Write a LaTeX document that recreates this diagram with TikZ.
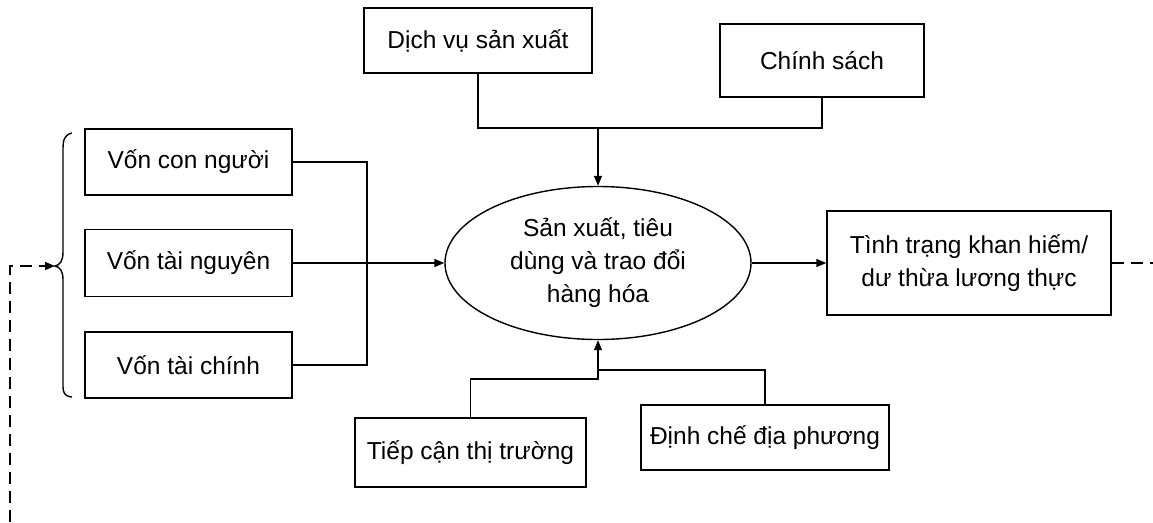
\documentclass[tikz,border=0pt]{standalone}
\usepackage{fontspec}
\setmainfont{Liberation Sans}
\usetikzlibrary{shapes.geometric,arrows.meta}
\begin{document}
\begin{tikzpicture}[x=1pt,y=-1pt,
  line width=1.4pt,
  every node/.style={font=\fontsize{24.5}{33}\selectfont, align=center, inner sep=0pt},
  box/.style={draw, rectangle},
  arr/.style={-{Triangle[length=10pt,width=8pt]}},
  dsh/.style={dash pattern=on 12pt off 7pt}]
\useasboundingbox (0,0) rectangle (1153,522);
% boxes
\node[box, minimum width=228pt, minimum height=65pt] (dv) at (478,40.5) {Dịch vụ sản xuất};
\node[box, minimum width=204pt, minimum height=73pt] (cs) at (822,60.5) {Chính sách};
\node[box, minimum width=207pt, minimum height=66pt] (v1) at (188.5,162) {Vốn con người};
\node[box, minimum width=207pt, minimum height=67pt] (v2) at (188.5,263) {Vốn tài nguyên};
\node[box, minimum width=207pt, minimum height=66pt] (v3) at (188.5,365) {Vốn tài chính};
\node[draw, ellipse, minimum width=306pt, minimum height=153pt] (el) at (598,263) {Sản xuất, tiêu\\dùng và trao đổi\\hàng hóa};
\node[box, minimum width=284pt, minimum height=104pt] (tt) at (969,263) {Tình trạng khan hiếm/\\dư thừa lương thực};
\node[box, minimum width=231pt, minimum height=69pt] (tc) at (470.5,452.5) {Tiếp cận thị trường};
\node[box, minimum width=248pt, minimum height=65pt] (dc) at (765,437.5) {Định chế địa phương};
% junctions
\coordinate (jt) at (598,128);
\coordinate (jv) at (367,263);
\coordinate (jb1) at (598,379);
\coordinate (jb2) at (598,370);
\coordinate (tip) at (55,266);
\coordinate (lc) at (10,266);
\coordinate (lb) at (10,522);
\coordinate (rend) at (1153,263);
% connectors
\draw (dv.south) |- (jt);
\draw (cs.south) |- (jt);
\draw[arr] (jt) -- (el.north);
\draw (v1.east) -| (jv) |- (v3.east);
\draw[arr] (v2.east) -- (el.west);
\draw (tc.north) |- (jb1) -- (jb2);
\draw (dc.north) |- (jb2);
\draw[arr] (jb1) -- (el.south);
\draw[arr] (el.east) -- (tt.west);
\draw[dsh] (tt.east) -- (rend);
\draw[dsh, arr] (lb) -- (lc) -- (tip);
% brace
\draw (72,133) .. controls (64,135) and (63,140) .. (63,150) -- (63,252)
  .. controls (63,261) and (60,265) .. (tip)
  .. controls (60,267) and (63,271) .. (63,280) -- (63,385)
  .. controls (63,393) and (64,396) .. (72,397);
\end{tikzpicture}
\end{document}
